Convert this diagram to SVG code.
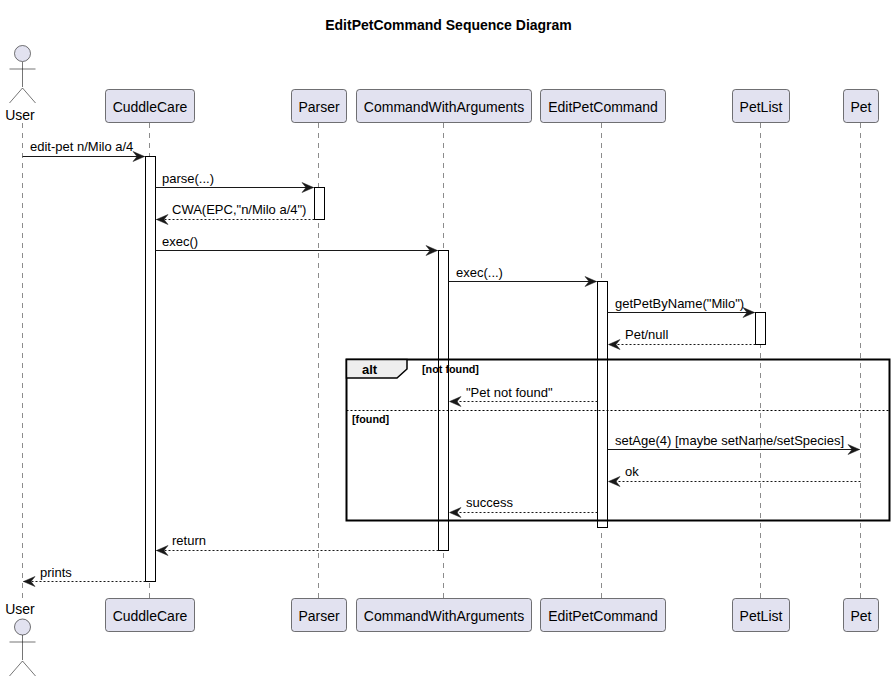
<svg xmlns="http://www.w3.org/2000/svg" width="894" height="682" viewBox="0 0 894 682">
<style>
text{font-family:"Liberation Sans",Arial,sans-serif;fill:#000}
.t{font-size:14px;font-weight:bold}
.p{font-size:14px}
.m{font-size:13px}
.g{font-size:10.800px;font-weight:bold}
.box{fill:#E2E2F0;stroke:#181818;stroke-width:.6}
.life{stroke:#181818;stroke-width:.5;stroke-dasharray:5 5;fill:none}
.act{fill:#fff;stroke:#000;stroke-width:1}
.actor{fill:none;stroke:#181818;stroke-width:.6}
.call{stroke:#181818;stroke-width:1;fill:none;marker-end:url(#a)}
.ret{stroke:#181818;stroke-width:1;stroke-dasharray:2 2;fill:none;marker-end:url(#a)}
</style>
<defs>
<marker id="a" markerUnits="userSpaceOnUse" markerWidth="16" markerHeight="14" refX="12.500" refY="6" orient="auto"><path d="M1 1L12.500 6L1 11L5 6Z" fill="#181818" stroke="#181818" stroke-width=".5"/></marker>
</defs>
<rect width="894" height="682" fill="#fff"/>
<text class="t" x="448.500" y="30" text-anchor="middle">EditPetCommand Sequence Diagram</text>
<g id="lifelines">
<path class="life" d="M22.500 123V598"/><path class="life" d="M149.500 123V598"/><path class="life" d="M318.500 123V598"/><path class="life" d="M443.500 123V598"/><path class="life" d="M601.500 123V598"/><path class="life" d="M760.500 123V598"/><path class="life" d="M860.500 123V598"/>
</g>
<g id="activations">
<rect class="act" x="145.500" y="156.500" width="10" height="425"/>
<rect class="act" x="314.500" y="187.500" width="10" height="32"/>
<rect class="act" x="438.500" y="250.500" width="10" height="300"/>
<rect class="act" x="597.500" y="281.500" width="10" height="246"/>
<rect class="act" x="755.500" y="312.500" width="10" height="32"/>
</g>
<g id="alt-frame">
<rect x="346.500" y="359.500" width="543" height="161" fill="none" stroke="#000" stroke-width="2"/>
<path d="M346.500 359.500H407V369L397 378H346.500Z" fill="#EEE" stroke="#000" stroke-width="1.500"/>
<text x="362" y="374" font-size="13" font-weight="bold">alt</text>
<text class="g" x="422" y="373">[not found]</text>
<path d="M346.500 410.500H889.500" stroke="#000" stroke-width="1" stroke-dasharray="2 2"/>
<text class="g" x="352" y="423">[found]</text>
</g>
<g id="connectors">
<path class="call" d="M22.500 156.500H144.500"/>
<path class="call" d="M155.500 187.500H313.500"/>
<path class="ret" d="M314.500 219.500H156.500"/>
<path class="call" d="M155.500 250.500H437.500"/>
<path class="call" d="M448.500 281.500H596.500"/>
<path class="call" d="M607.500 312.500H754.500"/>
<path class="ret" d="M755.500 344.500H608.500"/>
<path class="ret" d="M597.500 401.500H449.500"/>
<path class="call" d="M607.500 449.500H859.500"/>
<path class="ret" d="M860.500 481.500H608.500"/>
<path class="ret" d="M597.500 512.500H449.500"/>
<path class="ret" d="M438.500 550.500H156.500"/>
<path class="ret" d="M145.500 581.500H23.500"/>
</g>
<g id="labels">
<text class="m" x="30" y="151">edit-pet n/Milo a/4</text>
<text class="m" x="162" y="183">parse(...)</text>
<text class="m" x="172" y="214">CWA(EPC,"n/Milo a/4")</text>
<text class="m" x="162" y="246">exec()</text>
<text class="m" x="456" y="277">exec(...)</text>
<text class="m" x="615" y="308">getPetByName("Milo")</text>
<text class="m" x="625" y="339">Pet/null</text>
<text class="m" x="466" y="397">"Pet not found"</text>
<text class="m" x="615" y="445">setAge(4) [maybe setName/setSpecies]</text>
<text class="m" x="625" y="476">ok</text>
<text class="m" x="466" y="507">success</text>
<text class="m" x="172" y="545">return</text>
<text class="m" x="40" y="577">prints</text>
</g>
<g id="user">
<circle class="box" cx="22.500" cy="53.500" r="8"/>
<path class="actor" d="M22.500 62V87M9.500 69H35.500M22.500 88L9.500 103M22.500 88L35.500 103"/>
<text class="p" x="20" y="120" text-anchor="middle">User</text>
<text class="p" x="20" y="614" text-anchor="middle">User</text>
<circle class="box" cx="22.500" cy="627" r="8"/>
<path class="actor" d="M22.500 635V660M9.500 642H35.500M22.500 661L9.500 676M22.500 661L35.500 676"/>
</g>
<g id="cuddlecare">
<rect class="box" x="105.500" y="89.500" width="89" height="33" rx="3"/><text class="p" x="150" y="112" text-anchor="middle">CuddleCare</text>
<rect class="box" x="105.500" y="598.500" width="89" height="33" rx="3"/><text class="p" x="150" y="621" text-anchor="middle">CuddleCare</text>
</g>
<g id="parser">
<rect class="box" x="291.500" y="89.500" width="55" height="33" rx="3"/><text class="p" x="319" y="112" text-anchor="middle">Parser</text>
<rect class="box" x="291.500" y="598.500" width="55" height="33" rx="3"/><text class="p" x="319" y="621" text-anchor="middle">Parser</text>
</g>
<g id="commandwitharguments">
<rect class="box" x="356.500" y="89.500" width="175" height="33" rx="3"/><text class="p" x="444" y="112" text-anchor="middle">CommandWithArguments</text>
<rect class="box" x="356.500" y="598.500" width="175" height="33" rx="3"/><text class="p" x="444" y="621" text-anchor="middle">CommandWithArguments</text>
</g>
<g id="editpetcommand">
<rect class="box" x="540.500" y="89.500" width="125" height="33" rx="3"/><text class="p" x="603" y="112" text-anchor="middle">EditPetCommand</text>
<rect class="box" x="540.500" y="598.500" width="125" height="33" rx="3"/><text class="p" x="603" y="621" text-anchor="middle">EditPetCommand</text>
</g>
<g id="petlist">
<rect class="box" x="732.500" y="89.500" width="57" height="33" rx="3"/><text class="p" x="761" y="112" text-anchor="middle">PetList</text>
<rect class="box" x="732.500" y="598.500" width="57" height="33" rx="3"/><text class="p" x="761" y="621" text-anchor="middle">PetList</text>
</g>
<g id="pet">
<rect class="box" x="843.500" y="89.500" width="35" height="33" rx="3"/><text class="p" x="861" y="112" text-anchor="middle">Pet</text>
<rect class="box" x="843.500" y="598.500" width="35" height="33" rx="3"/><text class="p" x="861" y="621" text-anchor="middle">Pet</text>
</g>
</svg>
